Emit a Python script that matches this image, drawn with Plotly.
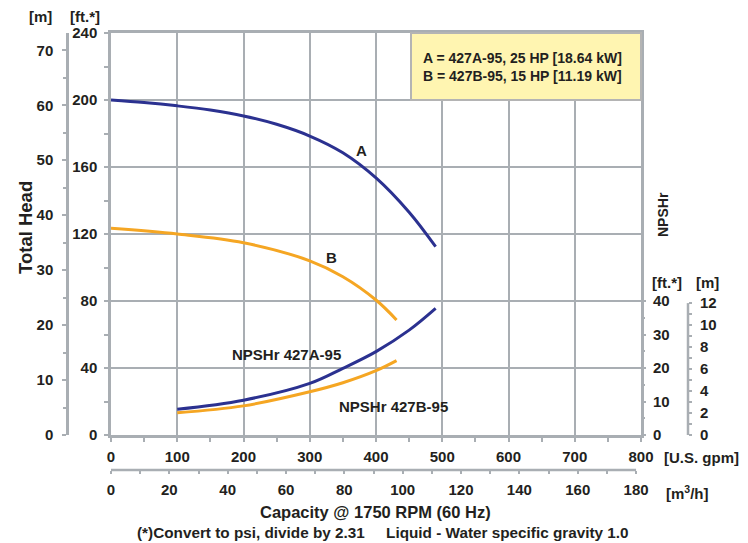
import plotly.graph_objects as go

# ---- data ----
gpm_A = [0, 50, 100, 150, 200, 250, 300, 350, 400, 450, 490]
head_A_ft = [200, 198.5, 196.5, 194, 190.5, 185.5, 178.5, 168.5, 153.5, 133, 112.4]

gpm_B = [0, 100, 200, 300, 350, 400, 431]
head_B_ft = [123.4, 120, 114.8, 104, 94.5, 80.6, 68.7]

npsh_A_gpm = [100, 200, 300, 350, 400, 450, 490]
npsh_A_ft = [7.7, 10.4, 15.4, 19.9, 24.9, 31.3, 37.8]

npsh_B_gpm = [100, 200, 300, 350, 400, 431]
npsh_B_ft = [6.65, 8.7, 12.9, 15.6, 19.2, 22.2]

M_PER_FT = 0.3048
M3H_PER_GPM = 0.22712

head_ft_ticks = [0, 40, 80, 120, 160, 200, 240]
head_m_ticks = [0, 10, 20, 30, 40, 50, 60, 70]
npsh_ft_ticks = [0, 10, 20, 30, 40]
npsh_m_ticks = [0, 2, 4, 6, 8, 10, 12]
gpm_ticks = [0, 100, 200, 300, 400, 500, 600, 700, 800]
m3h_ticks = [0, 20, 40, 60, 80, 100, 120, 140, 160, 180]

legend_lines = ["A = 427A-95, 25 HP [18.64 kW]", "B = 427B-95, 15 HP [11.19 kW]"]

# ---- style ----
PAGE_W, PAGE_H = 748, 543
OFF = 8                      # page body margin
W, H = PAGE_W - OFF, PAGE_H - OFF
BLUE = "#2b3190"
ORANGE = "#f5a623"
GRID = "#a9aeb3"
TXT = "#231f20"
GREEN = "#a6ce39"
FONT = "Liberation Sans"


def px(xp):
    return (xp - OFF) / W


def py(yp):
    return 1 - (yp - OFF) / H


tf = dict(family=FONT, size=15, color=TXT, weight="bold")

fig = go.Figure()
fig.add_trace(go.Scatter(x=gpm_A, y=head_A_ft, mode="lines", line=dict(color=BLUE, width=3, shape="spline"),
                         xaxis="x", yaxis="y", hoverinfo="skip"))
fig.add_trace(go.Scatter(x=gpm_B, y=head_B_ft, mode="lines", line=dict(color=ORANGE, width=3, shape="spline"),
                         xaxis="x", yaxis="y", hoverinfo="skip"))
fig.add_trace(go.Scatter(x=npsh_A_gpm, y=npsh_A_ft, mode="lines", line=dict(color=BLUE, width=3, shape="spline"),
                         xaxis="x", yaxis="y3", hoverinfo="skip"))
fig.add_trace(go.Scatter(x=npsh_B_gpm, y=npsh_B_ft, mode="lines", line=dict(color=ORANGE, width=3, shape="spline"),
                         xaxis="x", yaxis="y3", hoverinfo="skip"))
# empty traces so the secondary unit axes are drawn
for xa, ya in (("x", "y2"), ("x", "y4"), ("x2", "y")):
    fig.add_trace(go.Scatter(x=[None], y=[None], mode="lines", xaxis=xa, yaxis=ya, hoverinfo="skip"))

x_dom = [px(111), px(641)]
y_dom = [py(435), py(33)]
head_max_ft = 240
npsh_max_ft = 120

common = dict(automargin=False, fixedrange=True, zeroline=False, tickfont=tf, tickcolor=GRID, tickwidth=2)

fig.update_layout(
    width=W, height=H,
    margin=dict(l=0, r=0, t=0, b=0, autoexpand=False),
    paper_bgcolor="white", plot_bgcolor="white",
    showlegend=False,
    xaxis=dict(domain=x_dom, range=[0, 800], tickvals=gpm_ticks, showgrid=True, gridcolor=GRID, gridwidth=2,
               showline=True, linecolor=GRID, linewidth=2.5, mirror=True,
               ticks="outside", ticklen=4, ticklabelstandoff=2,
               minor=dict(dtick=50, ticks="outside", ticklen=4, tickcolor=GRID, tickwidth=2, showgrid=False),
               anchor="y", **common),
    xaxis2=dict(range=[0, 800 * M3H_PER_GPM], tickvals=m3h_ticks, overlaying="x", anchor="free",
                position=py(470), side="bottom", showgrid=False, showline=False,
                ticks="outside", ticklen=3, ticklabelstandoff=3,
                minor=dict(dtick=10, ticks="outside", ticklen=3, tickcolor=GRID, tickwidth=2), **common),
    yaxis=dict(domain=y_dom, range=[0, head_max_ft], tickvals=head_ft_ticks, showgrid=True, gridcolor=GRID,
               gridwidth=2, showline=True, linecolor=GRID, linewidth=2.5, mirror=True,
               ticks="outside", ticklen=4, ticklabelstandoff=4,
               minor=dict(dtick=20, ticks="outside", ticklen=4, tickcolor=GRID, tickwidth=2, showgrid=False),
               anchor="x", **common),
    yaxis2=dict(range=[0, head_max_ft * M_PER_FT], tickvals=head_m_ticks, overlaying="y", anchor="free",
                position=px(67), side="left", showgrid=False, showline=True, linecolor=GRID,
                linewidth=2.5, ticks="outside", ticklen=4, ticklabelstandoff=6,
                minor=dict(dtick=5, ticks="outside", ticklen=3, tickcolor=GRID, tickwidth=2), **common),
    yaxis3=dict(range=[0, npsh_max_ft], tickvals=npsh_ft_ticks, overlaying="y", anchor="x", side="right",
                showgrid=False, showline=False, ticks="outside", ticklen=4, ticklabelstandoff=4,
                minor=dict(tickmode="array", tickvals=[5, 15, 25, 35], ticks="outside", ticklen=3,
                           tickcolor=GRID, tickwidth=2), **common),
    yaxis4=dict(range=[0, npsh_max_ft * M_PER_FT], tickvals=npsh_m_ticks, overlaying="y", anchor="free",
                position=px(688), side="right", showgrid=False, showline=False,
                ticks="outside", ticklen=3, ticklabelstandoff=5,
                minor=dict(tickmode="array", tickvals=[1, 3, 5, 7, 9, 11], ticks="outside", ticklen=3,
                           tickcolor=GRID, tickwidth=2), **common),
)

# axis line pieces
shapes = [
    dict(type="line", xref="x2", yref="paper", x0=0, x1=m3h_ticks[-1], y0=py(470), y1=py(470),
         line=dict(color=GRID, width=2.5)),
    dict(type="line", xref="paper", yref="y4", x0=px(688), x1=px(688), y0=0, y1=npsh_m_ticks[-1],
         line=dict(color=GRID, width=2.5)),
    # legend box
    dict(type="rect", xref="paper", yref="paper", x0=px(411), x1=px(641), y0=py(100), y1=py(33),
         fillcolor="#fff5b1", line=dict(color="#b4b4b4", width=2), layer="above"),
    # green border (right)
    dict(type="rect", xref="paper", yref="paper", x0=px(743), x1=1, y0=0, y1=1, fillcolor=GREEN,
         line=dict(width=0)),
]
fig.update_layout(shapes=shapes)


def ann(text, x, y, size=15, angle=0, xanchor="center", align="center"):
    fig.add_annotation(text=f"<b>{text}</b>", xref="paper", yref="paper", x=px(x), y=py(y),
                       showarrow=False, textangle=angle, xanchor=xanchor, yanchor="middle", align=align,
                       font=dict(family=FONT, size=size, color=TXT))


ann("Total Head", 25, 228, size=18.5, angle=-90)
ann("[m]", 40, 17)
ann("[ft.*]", 85, 17)
ann("NPSHr", 663, 215, size=14, angle=-90)
ann("[ft.*]", 667, 283)
ann("[m]", 707, 283)
ann("[U.S. gpm]", 662, 457, xanchor="left")
ann("[m<sup>3</sup>/h]", 664, 492, xanchor="left")
ann("Capacity @ 1750 RPM (60 Hz)", 375, 512, size=16.5)
ann("(*)Convert to psi, divide by 2.31&nbsp;&nbsp;&nbsp;&nbsp;&nbsp;Liquid - Water specific gravity 1.0",
    383, 532, size=15.3)
ann("<br>".join(legend_lines), 421, 67, size=14, xanchor="left", align="left")
ann("A", 361, 150)
ann("B", 331, 257)
ann("NPSHr 427A-95", 286, 354)
ann("NPSHr 427B-95", 393, 406)

fig.write_html("out.html")
